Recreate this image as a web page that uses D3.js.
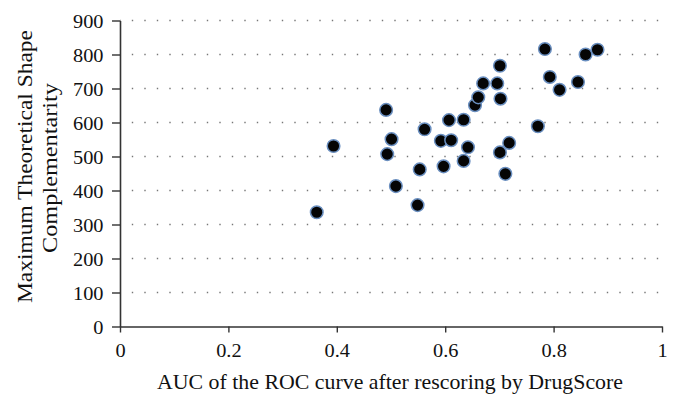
<!DOCTYPE html>
<html>
<head>
<meta charset="utf-8">
<script src="https://cdn.jsdelivr.net/npm/d3@7"></script>
<style>
  html, body { margin: 0; padding: 0; background: #fff; }
  svg { display: block; }
  text { font-family: "Liberation Serif", "Times New Roman", serif; fill: #111; }
</style>
</head>
<body>
<svg id="chart" width="682" height="409"></svg>
<script>
// ---- data ----
const aucValues = [0.363, 0.394, 0.491, 0.493, 0.501, 0.509, 0.549, 0.553, 0.562, 0.592, 0.597,
  0.607, 0.611, 0.634, 0.634, 0.642, 0.655, 0.661, 0.670, 0.696, 0.701, 0.702, 0.701, 0.711,
  0.718, 0.771, 0.784, 0.793, 0.811, 0.845, 0.859, 0.881];
const shapeValues = [336, 531, 637, 507, 551, 413, 357, 462, 580, 546, 471,
  607, 548, 608, 487, 527, 651, 674, 715, 715, 767, 670, 512, 449,
  540, 589, 816, 734, 696, 719, 800, 814];
const xTicks = [0, 0.2, 0.4, 0.6, 0.8, 1];
const xTickLabels = ["0", "0.2", "0.4", "0.6", "0.8", "1"];
const yTicks = [0, 100, 200, 300, 400, 500, 600, 700, 800, 900];
const xTitle = "AUC of the ROC curve after rescoring by DrugScore";
const yTitleLines = ["Maximum Theoretical Shape", "Complementarity"];

// ---- layout ----
const svg = d3.select("#chart");
const plotLeft = 120, plotRight = 662, plotTop = 20.5, plotBottom = 326.5;
const x = d3.scaleLinear().domain([0, 1]).range([plotLeft, plotRight]);
const y = d3.scaleLinear().domain([0, 900]).range([plotBottom, plotTop]);
const stretch = 1.07;

function widen(sel, factor) {
  sel.each(function () {
    const w = this.getComputedTextLength();
    d3.select(this).attr("textLength", w * factor).attr("lengthAdjust", "spacingAndGlyphs");
  });
}

// dotted gridlines
svg.append("g").selectAll("line")
  .data(yTicks.filter(d => d > 0))
  .join("line")
  .attr("x1", plotLeft).attr("x2", plotRight)
  .attr("y1", d => y(d)).attr("y2", d => y(d))
  .attr("stroke", "#777")
  .attr("stroke-width", 1.4)
  .attr("stroke-dasharray", "1.4 11.1")
  .attr("stroke-dashoffset", -11.8);

// y axis
const yAxis = svg.append("g")
  .attr("transform", `translate(${plotLeft},0)`)
  .call(d3.axisLeft(y).tickValues(yTicks).tickSize(8).tickPadding(8.5).tickSizeOuter(0));
yAxis.select(".domain").attr("stroke", "#333").attr("stroke-width", 1.6);
yAxis.selectAll(".tick line").attr("stroke", "#333").attr("stroke-width", 1.4);
yAxis.selectAll("text").style("font-size", "19px").attr("fill", "#111")
  .attr("font-family", "Liberation Serif").attr("dy", "0.36em");
widen(yAxis.selectAll("text"), stretch);

// x axis
const xAxis = svg.append("g")
  .attr("transform", `translate(0,${plotBottom})`)
  .call(d3.axisBottom(x).tickValues(xTicks).tickFormat((d, i) => xTickLabels[i])
    .tickSize(6).tickPadding(11.5).tickSizeOuter(0));
xAxis.select(".domain").attr("stroke", "#333").attr("stroke-width", 1.6);
xAxis.selectAll(".tick line").attr("stroke", "#333").attr("stroke-width", 1.4);
xAxis.selectAll("text").style("font-size", "19px").attr("fill", "#111")
  .attr("font-family", "Liberation Serif");
widen(xAxis.selectAll("text"), stretch);

// points
svg.append("g").selectAll("circle")
  .data(aucValues.map((a, i) => [a, shapeValues[i]]))
  .join("circle")
  .attr("cx", d => x(d[0]))
  .attr("cy", d => y(d[1]))
  .attr("r", 6.3)
  .attr("fill", "#050505")
  .attr("stroke", "#6a8fc0")
  .attr("stroke-width", 1.5);

// x title
svg.append("text")
  .attr("x", 390).attr("y", 389)
  .attr("text-anchor", "middle")
  .style("font-size", "21px")
  .attr("textLength", 466).attr("lengthAdjust", "spacingAndGlyphs")
  .text(xTitle);

// y title (two lines, rotated)
const yTitleX = [32, 57];
const yTitleY = [166.5, 168];
const yTitleLen = [273, 170];
yTitleLines.forEach((t, i) => {
  svg.append("text")
    .attr("transform", `translate(${yTitleX[i]},${yTitleY[i]}) rotate(-90)`)
    .attr("text-anchor", "middle")
    .style("font-size", "21px")
    .attr("textLength", yTitleLen[i]).attr("lengthAdjust", "spacingAndGlyphs")
    .text(t);
});
</script>
</body>
</html>
